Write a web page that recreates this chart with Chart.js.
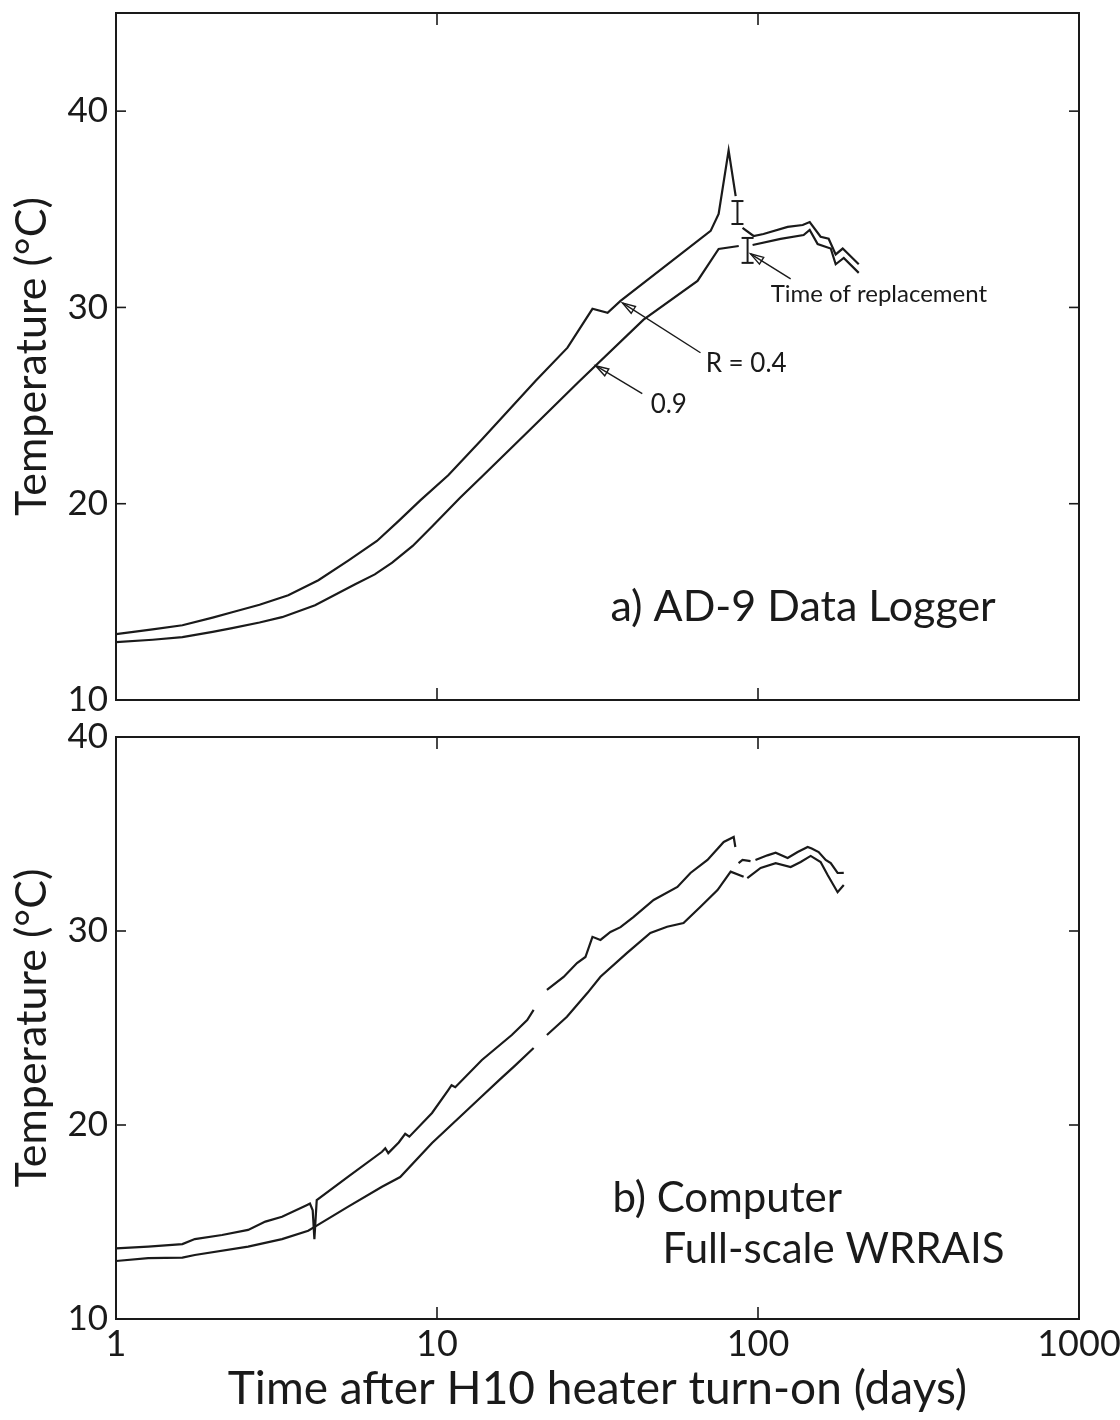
<!DOCTYPE html>
<html>
<head>
<meta charset="utf-8">
<script src="https://cdn.jsdelivr.net/npm/chart.js@4.4.1/dist/chart.umd.min.js"></script>
<style>
  html, body { margin: 0; padding: 0; background: #fff; }
  #wrap { position: relative; width: 1120px; height: 1420px; }
  #chartA { position: absolute; left: 0; top: 0; }
  #chartB { position: absolute; left: 0; top: 720px; }
</style>
</head>
<body>
<div id="wrap">
  <canvas id="chartA" width="1120" height="720"></canvas>
  <canvas id="chartB" width="1120" height="700"></canvas>
</div>
<script>
// ticks
const xTicks = [1, 10, 100, 1000];
const yTicks = [10, 20, 30, 40];

// a) AD-9 Data Logger, R = 0.4 (null = break in the trace)
const daysA04 = [1, 1.3, 1.61, 2.0, 2.3, 2.8, 3.44, 4.27, 5.29, 6.5,
  7.57, 8.87, 10.84, 13.84, 20.3, 25.5, 30.5, 34.0, 37.3, 71.2,
  75.4, 81.0, 85.2, 87.5, 89.5, 96.9, 104, 123.7, 137.8, 144.9,
  156.7, 166, 174.6, 183.6, 206];
const tempA04 = [13.36, 13.6, 13.81, 14.2, 14.47, 14.85, 15.34, 16.1, 17.1, 18.1,
  19.1, 20.17, 21.45, 23.3, 26.27, 27.95, 29.93, 29.73, 30.33, 33.9,
  34.76, 38.0, 35.67, null, 34.05, 33.64, 33.74, 34.1, 34.2, 34.35,
  33.6, 33.5, 32.7, 33.0, 32.2];

// a) R = 0.9
const daysA09 = [1, 1.3, 1.61, 2.0, 2.3, 2.8, 3.29, 4.17, 5.56, 6.4,
  7.25, 8.4, 9.67, 11.8, 13.84, 19.8, 27.6, 44.0, 64.8, 75.4,
  87.1, 91, 96.2, 117.6, 138.7, 144.9, 153.4, 168.5, 174.6, 185,
  206];
const tempA09 = [12.95, 13.07, 13.2, 13.47, 13.66, 13.95, 14.22, 14.83, 15.9, 16.4,
  17.0, 17.85, 18.85, 20.3, 21.4, 23.88, 26.2, 29.38, 31.35, 32.98,
  33.13, null, 33.18, 33.49, 33.69, 33.95, 33.23, 33.0, 32.2, 32.52,
  31.76];

// b) Computer, full-scale WRRAIS - upper trace
const daysB04 = [1, 1.26, 1.61, 1.76, 2.14, 2.58, 2.92, 3.29, 3.94, 4.02,
  4.1, 4.15, 4.22, 5.29, 6.74, 6.9, 7.05, 7.6, 7.96, 8.2,
  9.65, 10.84, 11.1, 11.4, 13.8, 17.1, 19.1, 20.0, 21, 22.0,
  24.8, 27.3, 29.0, 30.5, 32.3, 34.7, 37.3, 40.9, 47.3, 56.1,
  61.6, 69.6, 78.2, 84.0, 85.0, 86, 87.0, 89.5, 94.8, 96.5,
  98.2, 107, 113.5, 123.7, 132.9, 142.8, 147, 154.5, 162.5, 168.5,
  177, 185];
const tempB04 = [13.64, 13.73, 13.86, 14.12, 14.33, 14.59, 15.02, 15.27, 15.88, 15.95,
  15.6, 14.12, 16.13, 17.34, 18.62, 18.8, 18.55, 19.1, 19.55, 19.4,
  20.62, 21.8, 22.05, 21.95, 23.35, 24.64, 25.41, 25.93, null, 26.96,
  27.63, 28.35, 28.66, 29.7, 29.54, 29.95, 30.2, 30.72, 31.6, 32.27,
  32.99, 33.66, 34.59, 34.85, 34.33, null, 33.5, 33.66, 33.6, null,
  33.66, 33.9, 34.04, 33.76, 34.07, 34.33, 34.25, 34.07, 33.66, 33.5,
  32.99, 33.0];

// b) lower trace
const daysB09 = [1, 1.26, 1.61, 1.76, 2.58, 3.29, 3.97, 4.17, 5.29, 6.74,
  7.68, 9.65, 12.4, 13.8, 15.8, 17.5, 20.0, 21, 22.0, 25.4,
  29.4, 32.3, 39.1, 46.2, 52.1, 58.6, 66.2, 74.8, 82.2, 90.2,
  91.4, 92.6, 101.9, 113.5, 126.4, 135.8, 145.9, 156.7, 164.8, 177,
  185];
const tempB09 = [12.99, 13.14, 13.16, 13.3, 13.73, 14.12, 14.55, 14.76, 15.79, 16.82,
  17.32, 19.07, 20.76, 21.48, 22.39, 23.06, 23.97, null, 24.64, 25.58,
  26.8, 27.64, 28.87, 29.9, 30.22, 30.41, 31.25, 32.11, 33.06, 32.8,
  null, 32.73, 33.25, 33.5, 33.3, 33.56, 33.87, 33.56, 32.89, 32.0,
  32.37];

// time of replacement bars
const replDays = [86.3, 92.8];
const replLow = [34.25, 32.27];
const replHigh = [35.42, 33.54];

const FONT = "Lato, 'Open Sans', 'DejaVu Sans', sans-serif";
const INK = '#1a1a1a';

function pts(xs, ys) {
  return xs.map((x, i) => ({ x: x, y: ys[i] }));
}

function lineSet(xs, ys) {
  return {
    data: pts(xs, ys),
    borderColor: INK,
    borderWidth: 2.2,
    pointRadius: 0,
    spanGaps: false,
    tension: 0,
    fill: false
  };
}

function seg(ctx, x1, y1, x2, y2) {
  ctx.beginPath();
  ctx.moveTo(x1, y1);
  ctx.lineTo(x2, y2);
  ctx.stroke();
}

function arrow(ctx, x1, y1, x2, y2) {
  seg(ctx, x1, y1, x2, y2);
  const a = Math.atan2(y2 - y1, x2 - x1);
  const L = 13, W = 4;
  const bx = x2 - L * Math.cos(a), by = y2 - L * Math.sin(a);
  ctx.beginPath();
  ctx.moveTo(x2, y2);
  ctx.lineTo(bx + W * Math.sin(a), by - W * Math.cos(a));
  ctx.lineTo(bx - W * Math.sin(a), by + W * Math.cos(a));
  ctx.closePath();
  ctx.stroke();
}

// frame + inward tick marks
const framePlugin = {
  id: 'frame',
  afterDatasetsDraw(chart) {
    const { ctx, chartArea: a, scales } = chart;
    ctx.save();
    ctx.strokeStyle = INK;
    ctx.lineWidth = 2;
    ctx.strokeRect(a.left, a.top, a.right - a.left, a.bottom - a.top);
    ctx.lineWidth = 1.6;
    yTicks.forEach(v => {
      const y = scales.y.getPixelForValue(v);
      seg(ctx, a.left, y, a.left + 10, y);
      seg(ctx, a.right - 10, y, a.right, y);
    });
    [10, 100].forEach(v => {
      const x = scales.x.getPixelForValue(v);
      seg(ctx, x, a.bottom, x, a.bottom - 12);
      seg(ctx, x, a.top, x, a.top + 12);
    });
    ctx.restore();
  }
};

function makeNotes(texts, arrows, bars) {
  return {
    id: 'notes',
    afterDatasetsDraw(chart) {
      const { ctx, scales } = chart;
      const X = v => scales.x.getPixelForValue(v);
      const Y = v => scales.y.getPixelForValue(v);
      ctx.save();
      ctx.fillStyle = INK;
      ctx.strokeStyle = INK;
      ctx.textAlign = 'left';
      ctx.textBaseline = 'alphabetic';
      texts.forEach(t => {
        ctx.font = t.size + 'px ' + FONT;
        ctx.fillText(t.text, X(t.x), Y(t.y));
      });
      ctx.lineWidth = 1.4;
      arrows.forEach(r => arrow(ctx, X(r[0]), Y(r[1]), X(r[2]), Y(r[3])));
      ctx.lineWidth = 2;
      bars.forEach((d, i) => {
        const x = X(d), y1 = Y(replLow[i]), y2 = Y(replHigh[i]);
        seg(ctx, x, y1, x, y2);
        seg(ctx, x - 6, y1, x + 6, y1);
        seg(ctx, x - 6, y2, x + 6, y2);
      });
      ctx.restore();
    }
  };
}

function yAxis(min, max) {
  return {
    min: min, max: max,
    afterFit: s => { s.width = 116; s.paddingTop = 0; s.paddingBottom = 0; },
    afterBuildTicks: s => { s.ticks = yTicks.map(v => ({ value: v })); },
    grid: { display: false, drawTicks: false },
    border: { display: false },
    ticks: { font: { family: FONT, size: 35 }, color: INK, padding: 8 },
    title: {
      display: true, text: 'Temperature (°C)', color: INK,
      font: { family: FONT, size: 43 }, padding: { top: 6, bottom: 0 }
    }
  };
}

// a) AD-9 Data Logger
new Chart(document.getElementById('chartA'), {
  type: 'line',
  data: { datasets: [lineSet(daysA04, tempA04), lineSet(daysA09, tempA09)] },
  options: {
    responsive: false,
    animation: false,
    layout: { padding: { top: 13, right: 41, bottom: 20, left: 0 } },
    plugins: { legend: { display: false }, tooltip: { enabled: false } },
    scales: {
      x: { type: 'logarithmic', min: 1, max: 1000, display: false },
      y: yAxis(10, 45)
    }
  },
  plugins: [framePlugin, makeNotes(
    [
      { text: 'a) AD-9 Data Logger', x: 34.7, y: 14.0, size: 43 },
      { text: 'R = 0.4', x: 68.7, y: 26.7, size: 26 },
      { text: '0.9', x: 46.3, y: 24.6, size: 26 },
      { text: 'Time of replacement', x: 109.5, y: 30.3, size: 24 }
    ],
    [
      [66.2, 27.69, 37.8, 30.23],
      [43.6, 25.61, 31.2, 27.03],
      [126.4, 31.45, 94.8, 32.73]
    ],
    replDays
  )]
});

// b) Computer, full-scale WRRAIS
new Chart(document.getElementById('chartB'), {
  type: 'line',
  data: { datasets: [lineSet(daysB04, tempB04), lineSet(daysB09, tempB09)] },
  options: {
    responsive: false,
    animation: false,
    layout: { padding: { top: 17, right: 41, bottom: 0, left: 0 } },
    plugins: { legend: { display: false }, tooltip: { enabled: false } },
    scales: {
      x: {
        type: 'logarithmic', min: 1, max: 1000,
        afterFit: s => { s.height = 101; s.paddingLeft = 0; s.paddingRight = 0; },
        afterBuildTicks: s => { s.ticks = xTicks.map(v => ({ value: v })); },
        grid: { display: false, drawTicks: false },
        border: { display: false },
        ticks: {
          font: { family: FONT, size: 36 }, color: INK, padding: 4,
          maxRotation: 0, autoSkip: false, callback: v => String(v)
        },
        title: {
          display: true, text: 'Time after H10 heater turn-on (days)', color: INK,
          font: { family: FONT, size: 46 }, padding: { top: 0, bottom: 3 }
        }
      },
      y: yAxis(10, 40)
    }
  },
  plugins: [framePlugin, makeNotes(
    [
      { text: 'b) Computer', x: 35.2, y: 15.5, size: 42 },
      { text: 'Full-scale WRRAIS', x: 50.4, y: 12.9, size: 42 }
    ],
    [],
    []
  )]
});
</script>
</body>
</html>
